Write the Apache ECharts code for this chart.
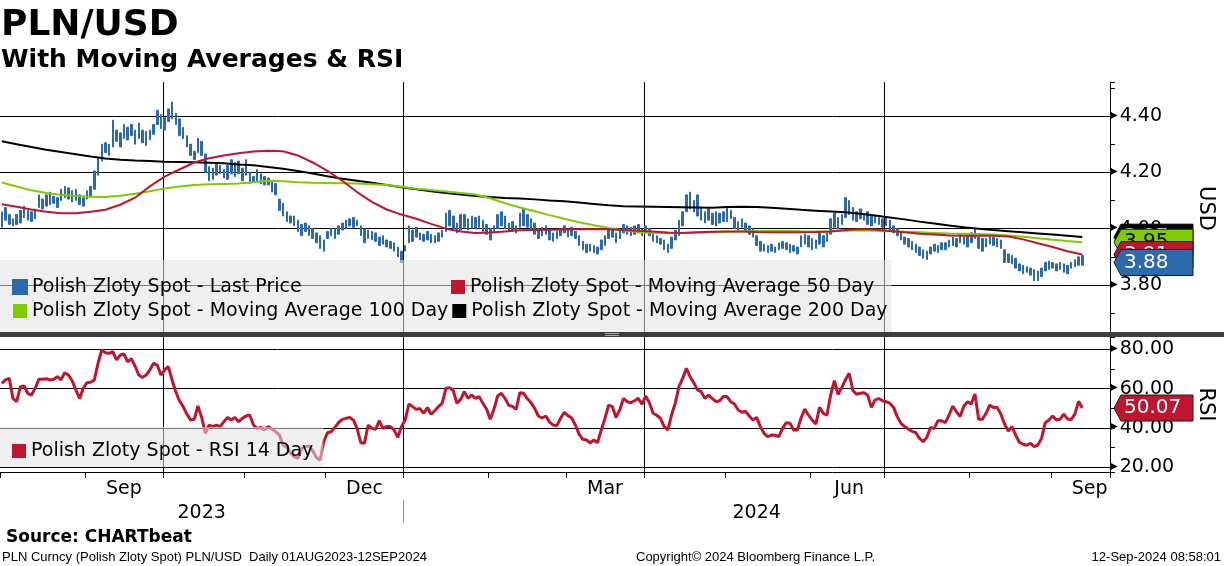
<!DOCTYPE html>
<html>
<head>
<meta charset="utf-8">
<title>PLN/USD</title>
<script src="https://cdn.jsdelivr.net/npm/echarts@6/dist/echarts.min.js"></script>
<style>
html, body { margin: 0; padding: 0; background: #fff; }
#chart { width: 1224px; height: 566px; }
</style>
</head>
<body>
<div id="chart"></div>
<script>
// Polish Zloty Spot, daily (weekdays) 01AUG2023 - 12SEP2024
var lows = [
    // Aug 2023
    4.005,4.030,4.015,4.010,4.015,4.020,4.040,4.030,4.025,4.035,4.075,4.070,4.080,4.085,4.090,4.075,4.100,4.110,4.105,4.095,4.100,4.085,4.080,
    // Sep
    4.105,4.115,4.140,4.190,4.240,4.270,4.260,4.290,4.310,4.290,4.320,4.315,4.330,4.300,4.320,4.305,4.295,4.315,4.335,4.370,4.355,
    // Oct
    4.350,4.380,4.390,4.370,4.330,4.320,4.290,4.260,4.245,4.270,4.260,4.200,4.170,4.175,4.190,4.195,4.180,4.175,4.195,4.185,4.195,4.170,
    // Nov
    4.190,4.160,4.165,4.170,4.160,4.155,4.155,4.130,4.120,4.065,4.045,4.025,4.020,4.010,3.990,3.975,3.990,3.975,3.965,3.950,3.930,3.920,
    // Dec
    3.965,3.975,3.965,3.980,3.995,4.000,4.010,4.005,4.010,3.975,3.950,3.965,3.960,3.955,3.940,3.945,3.935,3.930,3.920,3.900,3.880,
    // Jan 2024
    3.920,3.950,3.955,3.970,3.960,3.955,3.960,3.950,3.950,3.955,3.970,3.990,4.010,4.000,3.985,3.995,4.005,3.995,4.000,4.000,4.005,3.990,3.980,
    // Feb
    3.960,3.985,4.000,4.010,4.000,3.990,3.995,3.985,4.005,4.010,4.005,3.995,3.980,3.965,3.975,3.980,3.960,3.955,3.965,3.975,3.985,
    // Mar
    3.970,3.975,3.965,3.940,3.925,3.915,3.920,3.915,3.910,3.925,3.940,3.965,3.970,3.950,3.965,3.985,3.980,3.975,3.980,3.985,3.975,
    // Apr
    3.985,3.975,3.955,3.950,3.945,3.925,3.915,3.930,3.960,3.975,4.010,4.060,4.070,4.060,4.045,4.030,4.020,4.030,4.015,4.010,4.020,4.025,
    // May
    4.025,4.035,4.000,3.995,4.005,3.990,3.980,3.970,3.940,3.920,3.920,3.915,3.920,3.915,3.925,3.930,3.925,3.915,3.920,3.910,3.935,3.945,3.935,
    // Jun
    3.925,3.930,3.945,3.935,3.955,3.980,4.005,4.000,4.015,4.040,4.050,4.030,4.025,4.035,4.030,4.015,4.010,4.020,4.015,4.005,
    // Jul
    4.010,3.995,3.985,3.975,3.960,3.945,3.935,3.925,3.915,3.905,3.895,3.890,3.910,3.920,3.915,3.925,3.925,3.935,3.940,3.935,3.950,3.945,3.935,
    // Aug
    3.950,3.965,3.930,3.920,3.935,3.945,3.940,3.935,3.930,3.880,3.880,3.875,3.860,3.850,3.840,3.845,3.835,3.815,3.815,3.830,3.850,3.855,
    // Sep
    3.860,3.850,3.855,3.845,3.840,3.860,3.865,3.870,3.870
];
var highs = [
    4.060,4.075,4.050,4.035,4.050,4.065,4.080,4.065,4.060,4.070,4.120,4.105,4.120,4.130,4.115,4.110,4.140,4.150,4.145,4.135,4.140,4.120,4.110,
    4.135,4.150,4.205,4.250,4.300,4.305,4.300,4.385,4.350,4.340,4.370,4.360,4.370,4.350,4.375,4.350,4.345,4.350,4.370,4.420,4.405,
    4.395,4.425,4.450,4.410,4.390,4.360,4.330,4.300,4.275,4.320,4.310,4.265,4.220,4.215,4.230,4.225,4.210,4.225,4.245,4.235,4.240,4.215,
    4.245,4.200,4.185,4.210,4.195,4.185,4.180,4.170,4.160,4.105,4.090,4.060,4.045,4.045,4.030,4.015,4.020,4.010,4.000,3.985,3.975,3.960,
    3.990,4.000,4.000,4.010,4.020,4.030,4.035,4.040,4.030,4.010,4.000,3.995,3.990,3.985,3.970,3.975,3.960,3.955,3.950,3.935,3.920,
    3.940,4.010,3.995,4.005,3.985,3.980,3.990,3.980,3.975,3.985,3.995,4.055,4.065,4.045,4.020,4.050,4.050,4.035,4.045,4.040,4.045,4.030,4.015,
    4.000,4.010,4.050,4.060,4.045,4.020,4.025,4.010,4.055,4.070,4.050,4.035,4.020,4.000,4.005,4.010,3.995,3.985,3.990,4.000,4.010,
    4.000,4.005,3.990,3.975,3.955,3.945,3.945,3.940,3.935,3.960,3.975,4.000,4.000,3.985,3.995,4.015,4.010,4.005,4.010,4.015,4.000,
    4.010,4.000,3.985,3.975,3.965,3.960,3.945,3.970,3.995,4.030,4.060,4.120,4.130,4.100,4.120,4.075,4.060,4.070,4.055,4.060,4.055,4.060,
    4.075,4.065,4.040,4.025,4.035,4.020,4.010,4.000,3.975,3.955,3.945,3.940,3.945,3.935,3.950,3.955,3.950,3.945,3.940,3.935,3.975,3.980,3.975,
    3.965,3.960,3.985,3.975,3.990,4.035,4.055,4.040,4.050,4.110,4.100,4.075,4.060,4.070,4.055,4.060,4.045,4.045,4.040,4.035,
    4.040,4.030,4.010,4.000,3.985,3.970,3.965,3.955,3.945,3.935,3.925,3.920,3.935,3.945,3.940,3.950,3.950,3.960,3.970,3.965,3.980,3.970,3.975,
    3.985,4.000,3.970,3.965,3.965,3.970,3.970,3.965,3.960,3.925,3.910,3.905,3.895,3.875,3.870,3.865,3.860,3.855,3.850,3.860,3.880,3.885,
    3.880,3.875,3.880,3.875,3.870,3.880,3.890,3.900,3.905
];
var lastClose = 3.88;

// moving averages, read every 4th trading day (day 0, 4, 8 ... 292)
var maStep = 4;
var ma50 = [
    4.087,4.078,4.068,4.060,4.055,4.055,4.060,4.067,4.085,4.110,4.150,4.185,4.210,4.235,4.250,4.260,4.268,4.274,4.277,
    4.275,4.260,4.235,4.205,4.170,4.130,4.095,4.068,4.050,4.035,4.017,4.000,3.990,3.985,3.986,3.990,3.994,3.995,
    3.996,3.997,3.998,3.999,3.998,3.995,3.993,3.990,3.986,3.985,3.987,3.989,3.990,3.990,3.988,3.987,3.987,3.987,
    3.988,3.990,3.995,3.999,3.997,3.992,3.987,3.982,3.979,3.976,3.975,3.975,3.975,3.972,3.962,3.948,3.935,3.920,3.908
];
var ma100 = [
    4.164,4.150,4.136,4.127,4.120,4.116,4.113,4.112,4.117,4.124,4.133,4.143,4.150,4.155,4.158,4.159,4.160,4.165,4.170,
    4.168,4.165,4.163,4.162,4.161,4.160,4.158,4.155,4.149,4.142,4.137,4.132,4.127,4.121,4.108,4.090,4.075,4.062,
    4.048,4.035,4.023,4.012,4.002,3.994,3.988,3.985,3.984,3.985,3.986,3.987,3.989,3.990,3.992,3.993,3.993,3.991,
    3.990,3.991,3.993,3.994,3.993,3.991,3.989,3.987,3.985,3.983,3.982,3.981,3.979,3.976,3.971,3.966,3.961,3.956,3.952
];
var ma200 = [
    4.310,4.300,4.290,4.280,4.272,4.264,4.256,4.249,4.245,4.242,4.240,4.238,4.237,4.236,4.234,4.232,4.228,4.225,4.219,
    4.213,4.205,4.196,4.186,4.177,4.170,4.163,4.155,4.147,4.140,4.133,4.127,4.121,4.116,4.112,4.109,4.107,4.104,
    4.100,4.097,4.093,4.088,4.083,4.080,4.079,4.078,4.077,4.076,4.075,4.074,4.077,4.078,4.077,4.074,4.071,4.067,
    4.064,4.061,4.058,4.053,4.047,4.040,4.033,4.025,4.018,4.011,4.005,4.000,3.995,3.991,3.987,3.983,3.979,3.975,3.970
];

// RSI 14 day, daily
var rsi = [
    62.7,64.4,65.2,55.0,53.3,61.0,61.3,57.6,56.7,60.1,64.7,64.7,65.0,64.4,64.7,66.1,64.4,68.1,66.9,64.0,59.3,55.0,60.1,
    63.0,63.2,64.4,72.9,79.7,78.3,78.0,78.8,74.6,77.1,77.6,73.7,75.2,71.5,66.9,65.7,66.9,69.5,72.9,72.0,66.9,
    69.5,71.2,64.4,58.4,53.8,50.8,47.0,44.0,44.3,51.1,45.3,37.2,41.4,40.6,41.4,40.6,43.1,45.3,44.0,45.3,43.1,44.8,
    46.0,46.5,41.4,39.6,40.2,38.9,40.6,39.4,38.0,36.3,31.2,30.0,27.3,25.3,24.4,29.5,30.4,30.7,28.3,24.9,23.6,32.9,
    37.5,38.0,40.2,42.6,44.3,44.8,45.3,44.0,39.7,32.4,32.1,41.4,39.7,39.2,43.6,39.7,40.6,40.6,38.9,35.1,40.6,
    44.0,52.1,50.8,49.4,49.8,47.4,50.3,46.9,48.7,50.8,52.5,60.0,60.5,58.9,52.5,54.5,58.4,55.0,56.7,55.0,55.9,52.5,49.6,
    44.3,49.4,56.2,57.6,55.0,51.5,50.9,49.4,57.9,57.6,54.9,52.8,49.9,46.0,45.0,46.0,43.0,41.4,41.1,44.8,47.9,
    46.2,45.0,41.4,36.8,34.1,33.8,32.4,33.8,32.4,38.9,44.8,51.6,50.8,45.3,49.1,55.0,53.3,52.8,53.8,55.0,52.1,
    56.2,52.8,47.4,46.4,44.8,40.6,38.9,46.5,52.5,61.0,65.2,70.3,66.1,63.0,59.3,58.4,55.0,56.7,55.0,53.3,53.8,55.9,
    55.9,53.3,52.1,49.1,47.9,48.4,46.0,44.0,45.3,40.6,37.2,35.5,36.3,36.2,35.5,39.7,42.6,42.3,38.9,38.9,45.0,49.5,46.5,
    44.0,41.9,50.4,47.4,46.5,56.7,64.0,57.0,60.5,64.5,67.8,59.0,57.1,57.6,57.9,56.7,50.4,54.2,54.9,53.8,
    53.3,52.5,50.4,45.7,42.3,40.6,39.4,38.2,37.5,34.6,32.9,35.1,40.2,39.6,43.6,43.6,42.6,46.5,51.1,48.2,45.7,51.1,53.3,
    52.1,57.2,44.3,44.3,47.4,51.5,50.4,50.4,47.0,41.9,38.4,40.6,36.3,32.6,31.6,31.1,32.1,30.4,31.2,34.6,42.6,44.0,
    46.0,44.0,44.3,47.0,44.5,44.2,47.0,53.5,50.07
];

var monthNames = ['Jan','Feb','Mar','Apr','May','Jun','Jul','Aug','Sep','Oct','Nov','Dec'];

// weekday calendar, run a few days past the last bar like the original axis
var dates = [];
(function () {
    var d = new Date(Date.UTC(2023, 7, 1));
    var end = new Date(Date.UTC(2024, 8, 23));
    while (d <= end) {
        var wd = d.getUTCDay();
        if (wd !== 0 && wd !== 6) dates.push(d.toISOString().slice(0, 10));
        d.setUTCDate(d.getUTCDate() + 1);
    }
})();

var monthStart = {}, quarterStart = {}, monthLabel = {}, yearStarts = [], yearLabel = {};
(function () {
    var years = {};
    var labelled = {};
    for (var i = 0; i < dates.length; i++) {
        var y = +dates[i].slice(0, 4), m = +dates[i].slice(5, 7) - 1, day = +dates[i].slice(8, 10);
        var prevM = i > 0 ? +dates[i - 1].slice(5, 7) - 1 : -1;
        if (m !== prevM) {
            monthStart[i] = true;
            if (m % 3 === 0 && i > 0) quarterStart[i] = true;
            if (m === 0 && i > 0) yearStarts.push(i);
        }
        if (m % 3 === 2 && day >= 15 && !labelled[y + '-' + m]) {
            labelled[y + '-' + m] = true;
            monthLabel[i] = true;
        }
        if (!years[y]) years[y] = [i, i];
        years[y][1] = i;
    }
    for (var k in years) yearLabel[Math.floor((years[k][0] + years[k][1]) / 2)] = true;
})();

var FONT = 'DejaVu Sans';
var BLUE = '#2d6aab', RED = '#c0152f', GREEN = '#7dcb00', BLACK = '#000000';
var N_LAST = 'Polish Zloty Spot - Last Price',
    N_MA50 = 'Polish Zloty Spot - Moving Average 50 Day',
    N_MA100 = 'Polish Zloty Spot - Moving Average 100 Day',
    N_MA200 = 'Polish Zloty Spot - Moving Average 200 Day',
    N_RSI = 'Polish Zloty Spot - RSI 14 Day';

var plotRight = 1113;
var priceMin = 3.6225, priceMax = 4.5207;
var rsiMin = 17.45, rsiMax = 86.3;

function sampled(arr) {
    return arr.map(function (v, k) { return [k * maStep, v]; });
}
var bars = lows.map(function (lo, i) { return [lo, highs[i], lo, highs[i]]; });

var chart = echarts.init(document.getElementById('chart'));

function tickLabel(v) { return '{t|\u25B6}' + v.toFixed(2); }
var labelRich = { t: { fontSize: 10, color: '#000', padding: [0, 2, 2, 0] } };

var option = {
    animation: false,
    textStyle: { fontFamily: FONT },
    grid: [
        { left: 0, right: 1224 - plotRight, top: 82, height: 253 },
        { left: 0, right: 1224 - plotRight, top: 337, height: 135 }
    ],
    legend: [
        {
            left: 0, top: 260, width: 960,
            padding: [17, 4, 11, 12], itemGap: 4,
            itemWidth: 14, itemHeight: 14, icon: 'rect',
            selectedMode: false,
            backgroundColor: 'rgba(226,226,226,0.55)',
            textStyle: { fontSize: 19, lineHeight: 20, color: '#000', fontFamily: FONT },
            data: [
                { name: N_LAST, textStyle: { width: 415 } },
                { name: N_MA50 },
                { name: N_MA100, textStyle: { width: 415 } },
                { name: N_MA200 }
            ]
        },
        {
            left: 0, top: 427,
            padding: [14, 10, 6, 12],
            itemWidth: 14, itemHeight: 14, icon: 'rect',
            selectedMode: false,
            backgroundColor: 'rgba(226,226,226,0.55)',
            textStyle: { fontSize: 19, lineHeight: 20, color: '#000', fontFamily: FONT },
            data: [N_RSI]
        }
    ],
    xAxis: [
        {
            type: 'category', gridIndex: 0, data: dates, boundaryGap: true,
            axisLine: { show: false }, axisTick: { show: false }, axisLabel: { show: false },
            splitLine: { show: true, interval: function (i) { return !!quarterStart[i]; }, lineStyle: { color: '#000', width: 1 } }
        },
        {
            type: 'category', gridIndex: 1, data: dates, boundaryGap: true,
            axisLine: { show: true, lineStyle: { color: '#000', width: 1 } },
            axisTick: { show: true, length: 6, interval: function (i) { return !!monthStart[i]; }, lineStyle: { color: '#000' } },
            axisLabel: {
                interval: function (i) { return !!monthLabel[i]; },
                formatter: function (v) { return monthNames[+v.slice(5, 7) - 1]; },
                fontSize: 19, color: '#000', margin: 8
            },
            splitLine: { show: true, interval: function (i) { return !!quarterStart[i]; }, lineStyle: { color: '#000', width: 1 } }
        },
        {
            type: 'category', gridIndex: 1, data: dates, boundaryGap: true, position: 'bottom', offset: 28,
            axisLine: { show: false },
            axisTick: { show: false },
            axisLabel: {
                interval: function (i) { return !!yearLabel[i]; },
                formatter: function (v) { return v.slice(0, 4); },
                fontSize: 19, color: '#000', margin: 4
            },
            splitLine: { show: false }
        }
    ],
    yAxis: [
        {
            type: 'value', gridIndex: 0, position: 'right',
            min: priceMin, max: priceMax, splitNumber: 4, minInterval: 0.2, maxInterval: 0.2,
            name: 'USD', nameLocation: 'middle', nameRotate: -90, nameGap: 85,
            nameTextStyle: { fontSize: 21, color: '#000', fontFamily: FONT },
            axisLine: { show: true, lineStyle: { color: '#000', width: 1 } },
            axisTick: { show: false },
            axisLabel: { formatter: tickLabel, rich: labelRich, fontSize: 19, color: '#000', margin: 0, showMinLabel: false, showMaxLabel: false },
            splitLine: { show: true, showMinLine: false, showMaxLine: false, lineStyle: { color: '#000', width: 1 } }
        },
        {
            type: 'value', gridIndex: 0, position: 'right',
            min: priceMin, max: priceMax, splitNumber: 9, minInterval: 0.1, maxInterval: 0.1,
            axisLine: { show: false }, axisLabel: { show: false }, splitLine: { show: false },
            axisTick: { show: true, length: 5, lineStyle: { color: '#000' } }
        },
        {
            type: 'value', gridIndex: 1, position: 'right',
            min: rsiMin, max: rsiMax, splitNumber: 3, minInterval: 20, maxInterval: 20,
            name: 'RSI', nameLocation: 'middle', nameRotate: -90, nameGap: 85,
            nameTextStyle: { fontSize: 21, color: '#000', fontFamily: FONT },
            axisLine: { show: true, lineStyle: { color: '#000', width: 1 } },
            axisTick: { show: false },
            axisLabel: { formatter: tickLabel, rich: labelRich, fontSize: 19, color: '#000', margin: 0, showMinLabel: false, showMaxLabel: false },
            splitLine: { show: true, showMinLine: false, showMaxLine: false, lineStyle: { color: '#000', width: 1 } }
        },
        {
            type: 'value', gridIndex: 1, position: 'right',
            min: rsiMin, max: rsiMax, splitNumber: 7, minInterval: 10, maxInterval: 10,
            axisLine: { show: false }, axisLabel: { show: false }, splitLine: { show: false },
            axisTick: { show: true, length: 5, lineStyle: { color: '#000' } }
        }
    ],
    series: [
        {
            name: N_LAST, type: 'candlestick', xAxisIndex: 0, yAxisIndex: 0,
            data: bars, barWidth: 2,
            itemStyle: { color: BLUE, color0: BLUE, borderColor: BLUE, borderColor0: BLUE, borderWidth: 1 }
        },
        {
            name: N_MA200, type: 'line', xAxisIndex: 0, yAxisIndex: 0, data: sampled(ma200),
            showSymbol: false, color: BLACK, lineStyle: { color: BLACK, width: 2 }
        },
        {
            name: N_MA100, type: 'line', xAxisIndex: 0, yAxisIndex: 0, data: sampled(ma100),
            showSymbol: false, color: GREEN, lineStyle: { color: GREEN, width: 2 }
        },
        {
            name: N_MA50, type: 'line', xAxisIndex: 0, yAxisIndex: 0, data: sampled(ma50),
            showSymbol: false, color: RED, lineStyle: { color: RED, width: 2 }
        },
        {
            name: N_RSI, type: 'line', xAxisIndex: 1, yAxisIndex: 2, data: rsi,
            showSymbol: false, color: RED, lineStyle: { color: RED, width: 3 }
        }
    ]
};
chart.setOption(option);

// last value tags on the right axes
function tag(y, fill, textColor, text, z) {
    var x0 = plotRight + 1, x1 = 1193, h = 13;
    return [
        {
            type: 'polygon', z: z,
            shape: { points: [[x0, y], [x0 + 7, y - h], [x1, y - h], [x1, y + h], [x0 + 7, y + h]] },
            style: { fill: fill, stroke: '#1a1a1a', lineWidth: 1 }
        },
        {
            type: 'text', z: z + 1, x: 1124, y: y,
            style: { text: text, fill: textColor, font: '20px ' + FONT, verticalAlign: 'middle', align: 'left' }
        }
    ];
}
function py(v) { return chart.convertToPixel({ yAxisIndex: 0 }, v); }
function ry(v) { return chart.convertToPixel({ yAxisIndex: 2 }, v); }

var last200 = ma200[ma200.length - 1], last100 = ma100[ma100.length - 1], last50 = ma50[ma50.length - 1];
var lastRsi = rsi[rsi.length - 1];

var elements = [
    { type: 'text', x: 1, y: 26, style: { text: 'PLN/USD', font: 'bold 36px ' + FONT, fill: '#000', verticalAlign: 'middle' } },
    { type: 'text', x: 1, y: 60, style: { text: 'With Moving Averages & RSI', font: 'bold 25px ' + FONT, fill: '#000', verticalAlign: 'middle' } },
    { type: 'rect', z: 50, shape: { x: 0, y: 332, width: 1224, height: 5 }, style: { fill: '#3d3d3d' } },
    { type: 'line', z: 51, shape: { x1: 605, y1: 333.5, x2: 619, y2: 333.5 }, style: { stroke: '#aaaaaa', lineWidth: 1 } },
    { type: 'line', z: 51, shape: { x1: 605, y1: 335.5, x2: 619, y2: 335.5 }, style: { stroke: '#aaaaaa', lineWidth: 1 } },
    { type: 'text', x: 6, y: 538, style: { text: 'Source: CHARTbeat', font: 'bold 17px ' + FONT, fill: '#000', verticalAlign: 'middle' } },
    { type: 'text', x: 2, y: 557, style: { text: 'PLN Curncy (Polish Zloty Spot) PLN/USD  Daily 01AUG2023-12SEP2024', font: '13px Liberation Sans', fill: '#000', verticalAlign: 'middle' } },
    { type: 'text', x: 636, y: 557, style: { text: 'Copyright\u00A9 2024 Bloomberg Finance L.P.', font: '13px Liberation Sans', fill: '#000', verticalAlign: 'middle' } },
    { type: 'text', x: 1221, y: 557, style: { text: '12-Sep-2024 08:58:01', font: '13px Liberation Sans', fill: '#000', verticalAlign: 'middle', align: 'right' } }
];

// year separators under the month labels, at the first weekday of each new year
yearStarts.forEach(function (i) {
    var x = (chart.convertToPixel({ xAxisIndex: 1 }, i - 1) + chart.convertToPixel({ xAxisIndex: 1 }, i)) / 2;
    x = Math.round(x) + 0.5;
    elements.push({ type: 'line', shape: { x1: x, y1: 500, x2: x, y2: 523 }, style: { stroke: '#8c8c8c', lineWidth: 1 } });
});

elements = elements
    .concat(tag(py(last200), BLACK, '#ffffff', last200.toFixed(2), 100))
    .concat(tag(py(last100), GREEN, '#000000', last100.toFixed(2), 102))
    .concat(tag(py(last50), RED, '#ffffff', last50.toFixed(2), 104))
    .concat(tag(py(lastClose), BLUE, '#ffffff', lastClose.toFixed(2), 106))
    .concat(tag(ry(lastRsi), RED, '#ffffff', lastRsi.toFixed(2), 108));

chart.setOption({ graphic: { elements: elements } });
</script>
</body>
</html>
